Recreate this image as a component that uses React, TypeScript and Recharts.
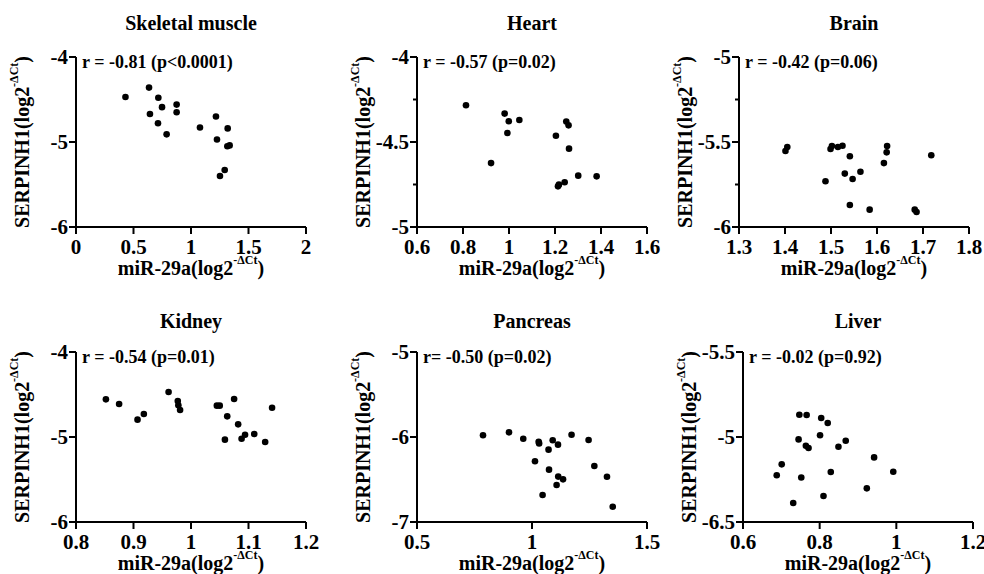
import React from 'react'
import { ScatterChart, Scatter, XAxis, YAxis, Label } from 'recharts'

// values
const skeletalX = [0.43, 0.635, 0.643, 0.716, 0.748, 0.713, 0.788, 0.875, 0.875, 1.078, 1.217, 1.226, 1.319, 1.316, 1.336, 1.293, 1.252]
const skeletalY = [-4.47, -4.36, -4.67, -4.48, -4.59, -4.78, -4.91, -4.56, -4.65, -4.83, -4.7, -4.97, -4.84, -5.05, -5.04, -5.33, -5.4]

const heartX = [0.813, 0.981, 0.999, 1.045, 0.993, 0.922, 1.204, 1.249, 1.259, 1.261, 1.301, 1.381, 1.242, 1.213, 1.217]
const heartY = [-4.284, -4.333, -4.378, -4.371, -4.447, -4.624, -4.463, -4.38, -4.402, -4.539, -4.698, -4.702, -4.737, -4.761, -4.751]

const brainX = [1.401, 1.405, 1.499, 1.502, 1.515, 1.525, 1.541, 1.622, 1.621, 1.718, 1.615, 1.53, 1.564, 1.547, 1.488, 1.541, 1.584, 1.682, 1.686]
const brainY = [-5.553, -5.529, -5.541, -5.524, -5.529, -5.522, -5.584, -5.524, -5.561, -5.578, -5.624, -5.686, -5.675, -5.718, -5.731, -5.871, -5.898, -5.898, -5.912]

const kidneyX = [0.852, 0.875, 0.907, 0.918, 0.961, 0.977, 0.978, 0.981, 1.045, 1.05, 1.075, 1.063, 1.082, 1.059, 1.088, 1.094, 1.11, 1.129, 1.141]
const kidneyY = [-4.557, -4.612, -4.796, -4.729, -4.471, -4.576, -4.627, -4.682, -4.631, -4.631, -4.553, -4.757, -4.851, -5.031, -5.02, -4.973, -4.965, -5.059, -4.655]

const pancreasX = [0.787, 0.9, 0.962, 1.029, 1.031, 1.09, 1.113, 1.072, 1.172, 1.246, 1.013, 1.074, 1.271, 1.114, 1.135, 1.107, 1.326, 1.046, 1.351]
const pancreasY = [-5.98, -5.945, -6.02, -6.055, -6.075, -6.039, -6.09, -6.149, -5.973, -6.035, -6.286, -6.384, -6.341, -6.466, -6.498, -6.565, -6.467, -6.682, -6.82]

const liverX = [0.747, 0.766, 0.804, 0.821, 0.801, 0.745, 0.764, 0.771, 0.849, 0.868, 0.942, 0.701, 0.688, 0.752, 0.829, 0.992, 0.923, 0.81, 0.731]
const liverY = [-5.869, -5.871, -5.888, -5.918, -5.99, -6.014, -6.052, -6.065, -6.057, -6.022, -6.12, -6.161, -6.225, -6.238, -6.206, -6.204, -6.302, -6.347, -6.388]

const titles = ['Skeletal muscle', 'Heart', 'Brain', 'Kidney', 'Pancreas', 'Liver']
const stats = ['r = -0.81 (p<0.0001)', 'r = -0.57 (p=0.02)', 'r = -0.42 (p=0.06)', 'r = -0.54 (p=0.01)', 'r= -0.50 (p=0.02)', 'r = -0.02 (p=0.92)']

const skeletalXTicks = [0, 0.5, 1, 1.5, 2]
const heartXTicks = [0.6, 0.8, 1, 1.2, 1.4, 1.6]
const brainXTicks = [1.3, 1.4, 1.5, 1.6, 1.7, 1.8]
const kidneyXTicks = [0.8, 0.9, 1, 1.1, 1.2]
const pancreasXTicks = [0.5, 1, 1.5]
const liverXTicks = [0.6, 0.8, 1, 1.2]

const skeletalYTicks = [-6, -5, -4]
const heartYTicks = [-5, -4.5, -4]
const brainYTicks = [-6, -5.5, -5]
const kidneyYTicks = [-6, -5, -4]
const pancreasYTicks = [-7, -6, -5]
const liverYTicks = [-6.5, -6, -5.5]
// the figure prints "-5" on the middle liver tick
const liverYTickLabels = ['-6.5', '-5', '-5.5']

const heartMinor = [-4.75, -4.25]
const brainMinor = [-5.75, -5.25]

if (typeof document !== 'undefined') {
  document.body.style.margin = '0'
  document.body.style.overflow = 'hidden'
}

const FONT = '"Liberation Serif", "Times New Roman", Times, serif'
const PLOT_W = 230
const PLOT_H = 170
const Y_W = 76
const X_H = 70
const TOP = 57
const RIGHT = 30

const toPoints = (xs: number[], ys: number[]) => xs.map((x, i) => ({ x, y: ys[i] }))

const YTick = (props: any) => {
  const { x, y, payload, major, labels, ticks } = props
  const v = payload.value
  const isMajor = major.includes(v)
  const label = labels ? labels[ticks.indexOf(v)] : String(v)
  return (
    <g>
      <line x1={x} x2={x - (isMajor ? 7 : 4)} y1={y} y2={y} stroke="#000" strokeWidth={2} />
      {isMajor && (
        <text x={x - 8} y={y} textAnchor="end" dominantBaseline="central" fontFamily={FONT} fontWeight="bold" fontSize={21} fill="#000">
          {label}
        </text>
      )}
    </g>
  )
}

const XTick = (props: any) => {
  const { x, y, payload } = props
  return (
    <g>
      <line x1={x} x2={x} y1={y} y2={y + 7} stroke="#000" strokeWidth={2} />
      <text x={x} y={y + 20} textAnchor="middle" dominantBaseline="central" fontFamily={FONT} fontWeight="bold" fontSize={21} fill="#000">
        {payload.value}
      </text>
    </g>
  )
}

const AxisText = ({ cx, cy, rotate }: { cx: number; cy: number; rotate?: boolean }) => (
  <text
    x={cx}
    y={cy}
    textAnchor="middle"
    dominantBaseline="central"
    fontFamily={FONT}
    fontWeight="bold"
    fontSize={20}
    fill="#000"
    transform={rotate ? `rotate(-90, ${cx}, ${cy})` : undefined}
  >
    {rotate ? 'SERPINH1(log2' : 'miR-29a(log2'}
    <tspan fontSize={12} dy={-8}>-ΔCt</tspan>
    <tspan dy={8}>)</tspan>
  </text>
)

interface PanelProps {
  left: number
  top: number
  titleDy: number
  title: string
  stat: string
  points: { x: number; y: number }[]
  xTicks: number[]
  yTicks: number[]
  minor?: number[]
  yLabels?: string[]
}

function Panel({ left, top, titleDy, title, stat, points, xTicks, yTicks, minor = [], yLabels }: PanelProps) {
  const allY = [...yTicks, ...minor].sort((a, b) => a - b)
  return (
    <div style={{ position: 'absolute', left: left - Y_W, top: top - TOP }}>
      <div
        style={{
          position: 'absolute',
          left: Y_W,
          width: PLOT_W,
          top: TOP + titleDy - 12,
          textAlign: 'center',
          fontFamily: FONT,
          fontWeight: 'bold',
          fontSize: 20,
          lineHeight: '24px',
        }}
      >
        {title}
      </div>
      <div
        style={{
          position: 'absolute',
          left: Y_W + 6,
          top: TOP - 6,
          fontFamily: FONT,
          fontWeight: 'bold',
          fontSize: 18,
          lineHeight: '22px',
          whiteSpace: 'nowrap',
          zIndex: 1,
        }}
      >
        {stat}
      </div>
      <ScatterChart width={Y_W + PLOT_W + RIGHT} height={TOP + PLOT_H + X_H} margin={{ top: TOP, right: RIGHT, bottom: 0, left: 0 }}>
        <XAxis
          type="number"
          dataKey="x"
          domain={[xTicks[0], xTicks[xTicks.length - 1]]}
          ticks={xTicks}
          height={X_H}
          allowDataOverflow
          axisLine={{ stroke: '#000', strokeWidth: 2 }}
          tickLine={false}
          tickSize={0}
          tickMargin={0}
          tick={<XTick />}
          interval={0}
        >
          <Label content={() => <AxisText cx={Y_W + PLOT_W / 2} cy={TOP + PLOT_H + 41} />} />
        </XAxis>
        <YAxis
          type="number"
          dataKey="y"
          domain={[yTicks[0], yTicks[yTicks.length - 1]]}
          ticks={allY}
          width={Y_W}
          allowDataOverflow
          axisLine={{ stroke: '#000', strokeWidth: 2 }}
          tickLine={false}
          tickSize={0}
          tickMargin={0}
          tick={<YTick major={yTicks} labels={yLabels} ticks={yTicks} />}
          interval={0}
        >
          <Label content={() => <AxisText cx={Y_W - 54} cy={TOP + PLOT_H / 2} rotate />} />
        </YAxis>
        <Scatter
          data={points}
          isAnimationActive={false}
          shape={(p: any) => <circle cx={p.cx} cy={p.cy} r={3.3} fill="#000" />}
        />
      </ScatterChart>
    </div>
  )
}

export default function App() {
  return (
    <div style={{ position: 'relative', width: 984, height: 574, background: '#fff', overflow: 'hidden' }}>
      <Panel left={76} top={57} titleDy={-34} title={titles[0]} stat={stats[0]} points={toPoints(skeletalX, skeletalY)} xTicks={skeletalXTicks} yTicks={skeletalYTicks} />
      <Panel left={417} top={57} titleDy={-34} title={titles[1]} stat={stats[1]} points={toPoints(heartX, heartY)} xTicks={heartXTicks} yTicks={heartYTicks} minor={heartMinor} />
      <Panel left={739} top={57} titleDy={-34} title={titles[2]} stat={stats[2]} points={toPoints(brainX, brainY)} xTicks={brainXTicks} yTicks={brainYTicks} minor={brainMinor} />
      <Panel left={76} top={352} titleDy={-31} title={titles[3]} stat={stats[3]} points={toPoints(kidneyX, kidneyY)} xTicks={kidneyXTicks} yTicks={kidneyYTicks} />
      <Panel left={417} top={352} titleDy={-31} title={titles[4]} stat={stats[4]} points={toPoints(pancreasX, pancreasY)} xTicks={pancreasXTicks} yTicks={pancreasYTicks} />
      <Panel left={743} top={352} titleDy={-31} title={titles[5]} stat={stats[5]} points={toPoints(liverX, liverY)} xTicks={liverXTicks} yTicks={liverYTicks} yLabels={liverYTickLabels} />
    </div>
  )
}
